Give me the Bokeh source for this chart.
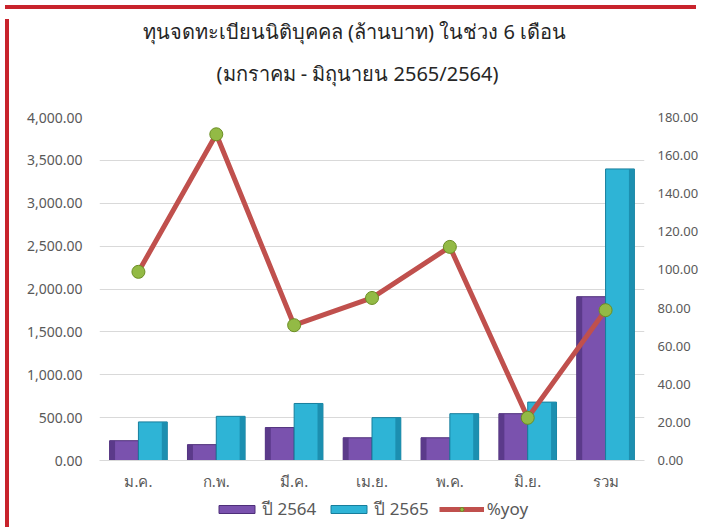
from bokeh.plotting import figure
from bokeh.layouts import column, row
from bokeh.models import (ColumnDataSource, Range1d, LinearAxis, NumeralTickFormatter,
                          FixedTicker, Legend, LegendItem, Label, Div)
from bokeh.transform import dodge
from bokeh.embed import file_html
from bokeh.resources import INLINE

# ---- data ----
months = ["ม.ค.", "ก.พ.", "มี.ค.", "เม.ย.", "พ.ค.", "มิ.ย.", "รวม"]
y2564 = [231, 185, 384, 265, 265, 546, 1910]
y2565 = [450, 515, 665, 500, 546, 681, 3400]
yoy = [99.0, 171.2, 71.0, 85.3, 112.1, 22.4, 78.9]
left_ticks = [0, 500, 1000, 1500, 2000, 2500, 3000, 3500, 4000]
right_ticks = [0, 20, 40, 60, 80, 100, 120, 140, 160, 180]
title1 = "ทุนจดทะเบียนนิติบุคคล (ล้านบาท) ในช่วง 6 เดือน"
title2 = "(มกราคม - มิถุนายน 2565/2564)"
legend_labels = ["ปี 2564", "ปี 2565", "%yoy"]

src = ColumnDataSource(dict(m=months, a=y2564, b=y2565, yoy=yoy))

FONT = "Noto Sans"
GRAY = "#595959"
RED = "#C8232C"
PURPLE, PURPLE_D, PURPLE_L = "#7A52AE", "#5B3A8A", "#4E2F7A"
CYAN, CYAN_D, CYAN_L = "#2EB4D6", "#1C8FB0", "#177E9C"
LINE_C, MK_F, MK_L = "#C0504D", "#93BA45", "#6B8E23"

W = 687

# ---------- title strip (frame aligned with the chart frame) ----------
tf = figure(width=W, height=93, x_range=Range1d(0, 1), y_range=Range1d(0, 1),
            output_backend="svg", toolbar_location=None, min_border=0,
            outline_line_color=None)
tf.axis.visible = False
tf.grid.visible = False
tf.add_layout(Label(x=255, y=76, x_units="screen", y_units="screen", text=title1,
                    text_align="center", text_baseline="middle", text_font=FONT,
                    text_font_size="20px", text_color="#262626"))
tf.add_layout(Label(x=258, y=34, x_units="screen", y_units="screen", text=title2,
                    text_align="center", text_baseline="middle", text_font=FONT,
                    text_font_size="20px", text_color="#262626"))

# ---------- main chart ----------
p = figure(x_range=months, y_range=Range1d(0, 4000), width=W, height=389,
           output_backend="svg", toolbar_location=None,
           min_border_left=85, min_border_right=54, min_border_top=10,
           min_border_bottom=36, outline_line_color=None)
p.extra_y_ranges = {"yoy": Range1d(0, 180)}


def draw_series(fig, y_name=None):
    kw = {} if y_name is None else {"y_range_name": y_name}
    b1 = fig.vbar(x=dodge("m", -0.185, range=fig.x_range), top="a", width=0.37,
                  source=src, fill_color=PURPLE, line_color=PURPLE_L, line_width=1)
    s1 = fig.vbar(x=dodge("m", -0.335, range=fig.x_range), top="a", width=0.07,
                  source=src, fill_color=PURPLE_D, line_color=None)
    b2 = fig.vbar(x=dodge("m", 0.185, range=fig.x_range), top="b", width=0.37,
                  source=src, fill_color=CYAN, line_color=CYAN_L, line_width=1)
    s2 = fig.vbar(x=dodge("m", 0.335, range=fig.x_range), top="b", width=0.07,
                  source=src, fill_color=CYAN_D, line_color=None)
    ln = fig.line(x="m", y="yoy", source=src, line_color=LINE_C, line_width=5, **kw)
    mk = fig.scatter(x="m", y="yoy", source=src, size=13, fill_color=MK_F,
                     line_color=MK_L, line_width=1, **kw)
    return b1, b2, ln, mk, s1, s2


draw_series(p, "yoy")

p.yaxis.ticker = FixedTicker(ticks=left_ticks)
p.yaxis.formatter = NumeralTickFormatter(format="0,0.00")
ry = LinearAxis(y_range_name="yoy", ticker=FixedTicker(ticks=right_ticks),
                formatter=NumeralTickFormatter(format="0.00"))
p.add_layout(ry, "right")

for ax in [p.yaxis[0], ry, p.xaxis[0]]:
    ax.major_tick_line_color = None
    ax.minor_tick_line_color = None
    ax.major_tick_out = 0
    ax.major_tick_in = 0
    ax.minor_tick_out = 0
    ax.minor_tick_in = 0
    ax.major_label_text_font = FONT
    ax.major_label_text_color = GRAY

for ax in [p.yaxis[0], ry]:
    ax.axis_line_color = None
    ax.major_label_text_font_size = "14px"
p.yaxis.major_label_standoff = 17
ry.major_label_text_font_size = "13px"
ry.major_label_standoff = 13

p.xaxis.axis_line_color = "#D9D9D9"
p.xaxis.major_label_text_font_size = "15px"
p.xaxis.major_label_standoff = 10

p.xgrid.grid_line_color = None
p.ygrid.grid_line_color = "#D9D9D9"

# ---------- legend strip (hidden copies of the series; only the legend shows) ----------
lf = figure(width=W, height=26, x_range=p.x_range, y_range=Range1d(0, 1),
            output_backend="svg", toolbar_location=None, min_border=0,
            outline_line_color=None)
lf.axis.visible = False
lf.grid.visible = False
rs = draw_series(lf)
for r in rs:
    r.visible = False
l1, l2, l3, l4 = rs[:4]
legend = Legend(items=[LegendItem(label=legend_labels[0], renderers=[l1]),
                       LegendItem(label=legend_labels[1], renderers=[l2]),
                       LegendItem(label=legend_labels[2], renderers=[l3, l4])],
                orientation="horizontal", location=(115, 0), glyph_width=45,
                glyph_height=10, label_text_font=FONT, label_text_font_size="17px",
                label_text_color=GRAY, border_line_color=None,
                background_fill_alpha=0, spacing=10, padding=0, margin=0,
                label_standoff=3, inactive_fill_alpha=0)
lf.add_layout(legend, "center")

top_bar = Div(width=691, height=4, styles={"background-color": RED})
left_bar = Div(width=4, height=508, styles={"background-color": RED})
layout = column(top_bar, row(left_bar, column(tf, p, lf, spacing=0), spacing=0),
                spacing=0)

open("out.html", "w").write(file_html(layout, INLINE))
